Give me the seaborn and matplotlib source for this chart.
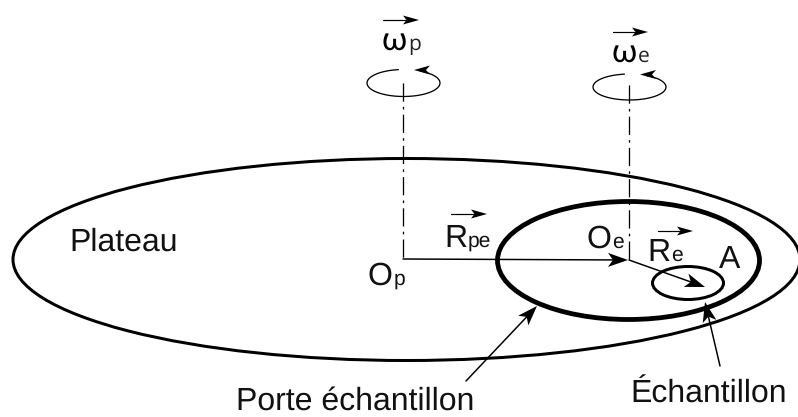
import numpy as np
import pandas as pd
import matplotlib
matplotlib.use("Agg")
import matplotlib.pyplot as plt
from matplotlib.patches import Ellipse, Polygon
import seaborn as sns

# Shapes, in picture pixels: centre x, centre y, width, height, tilt, line width
disc_names = ["Plateau", "Porte", "Echantillon"]
disc_cx = [406.5, 628.5, 688]
disc_cy = [259.5, 260.5, 283]
disc_w = [787, 262, 71]
disc_h = [202, 118, 33]
disc_tilt = [0, 0, 0]
disc_lw = [3.0, 4.8, 3.0]

# Axes of rotation
axis_x = [403, 629]
axis_top = [83, 85]
axis_bottom = [259, 260]

# Rotation circles
spin_cx = [403.5, 629.5]
spin_cy = [83, 87]
spin_w = [73, 73]
spin_h = [27, 26]

# Arrows: start x, start y, end x, end y
arrow_x0 = [403, 629, 466, 720]
arrow_y0 = [259, 260, 381, 366]
arrow_x1 = [628, 705, 537, 705]
arrow_y1 = [260, 287, 306, 302]

# Vector bars above the symbols
vec_x0 = [383, 613, 451, 658]
vec_x1 = [419, 648, 487, 693]
vec_y = [20, 32, 214, 231]

# Labels
main_labels = ["Plateau", "O", "R", "O", "R", "A", "Porte échantillon", "Échantillon"]
main_x = [69.5, 367, 444, 586, 647.5, 719, 235.5, 630.5]
main_y = [250.5, 285, 247, 248, 261, 268, 410, 403]
sub_labels = ["p", "pe", "e", "e"]
sub_x = [394, 468, 612.5, 671.5]
sub_y = [285, 247, 248, 261]
omega_labels = ["ω", "ω"]
omega_sub = ["p", "e"]
omega_x = [381.5, 611.5]
omega_sub_x = [408, 638]
omega_y = [50, 62]

sns.set_theme(style="white")
plt.rcParams["font.family"] = ["Liberation Sans", "DejaVu Sans"]
plt.rcParams["text.hinting"] = "none"
plt.rcParams["text.hinting_factor"] = 1

fig, ax = plt.subplots(figsize=(7.98, 4.17), dpi=100)
ax.set_position([0, 0, 1, 1])
ax.set_xlim(0, 798)
ax.set_ylim(417, 0)
ax.axis("off")
PT = 72 / 100


def head(x1, y1, ux, uy, length=20, half=7, notch=5):
    nx, ny = -uy, ux
    pts = [(x1, y1),
           (x1 - length * ux + half * nx, y1 - length * uy + half * ny),
           (x1 - (length - notch) * ux, y1 - (length - notch) * uy),
           (x1 - length * ux - half * nx, y1 - length * uy - half * ny)]
    ax.add_patch(Polygon(pts, closed=True, fc="black", ec="none", zorder=5))


for i in range(len(disc_names)):
    ax.add_patch(Ellipse((disc_cx[i], disc_cy[i]), disc_w[i], disc_h[i],
                         angle=disc_tilt[i], fill=False, ec="black",
                         lw=disc_lw[i] * PT, zorder=2))

for x, t, b in zip(axis_x, axis_top, axis_bottom):
    d = pd.DataFrame({"x": [x, x], "y": [t, b]})
    line = sns.lineplot(data=d, x="x", y="y", ax=ax, color="black", lw=1.3 * PT,
                        estimator=None, sort=False).lines[-1]
    line.set_dashes([14, 4, 2, 4])

for cx, cy, w, h in zip(spin_cx, spin_cy, spin_w, spin_h):
    # open ellipse running from the gap round the left, bottom and right sides
    theta = np.radians(np.linspace(-98, -98 - 325, 200))
    xs = cx + w / 2 * np.cos(theta)
    ys = cy + h / 2 * np.sin(theta)
    ax.plot(xs, ys, color="black", lw=1.3 * PT, zorder=3)
    head(cx + 10.5, cy - h / 2 + 0.5, -1, 0, length=16, half=4.5, notch=4)

for x0, y0, x1, y1 in zip(arrow_x0, arrow_y0, arrow_x1, arrow_y1):
    dx, dy = x1 - x0, y1 - y0
    n = np.hypot(dx, dy)
    ux, uy = dx / n, dy / n
    ax.plot([x0, x1 - 8 * ux], [y0, y1 - 8 * uy], color="black", lw=1.5 * PT, zorder=4)
    head(x1, y1, ux, uy)

for x0, x1, y in zip(vec_x0, vec_x1, vec_y):
    ax.plot([x0, x1 - 6], [y, y], color="black", lw=1.2 * PT, zorder=4)
    head(x1, y, 1, 0, length=16, half=4.5, notch=3.5)

for s, x, y in zip(main_labels, main_x, main_y):
    ax.text(x, y, s, fontsize=23, color="#111111", ha="left", va="baseline", zorder=6)
for s, x, y in zip(sub_labels, sub_x, sub_y):
    ax.text(x, y, s, fontsize=15, color="#111111", ha="left", va="baseline", zorder=6)
for s, t, x, sx, y in zip(omega_labels, omega_sub, omega_x, omega_sub_x, omega_y):
    ax.text(x, y, s, fontsize=24, family=["Lato", "Liberation Sans"], color="black",
            ha="left", va="baseline", zorder=6)
    ax.text(sx, y, t, fontsize=15, family="Open Sans", color="#222222", ha="left", va="baseline", zorder=6)

fig.savefig("out.png", dpi=100, facecolor="white")
